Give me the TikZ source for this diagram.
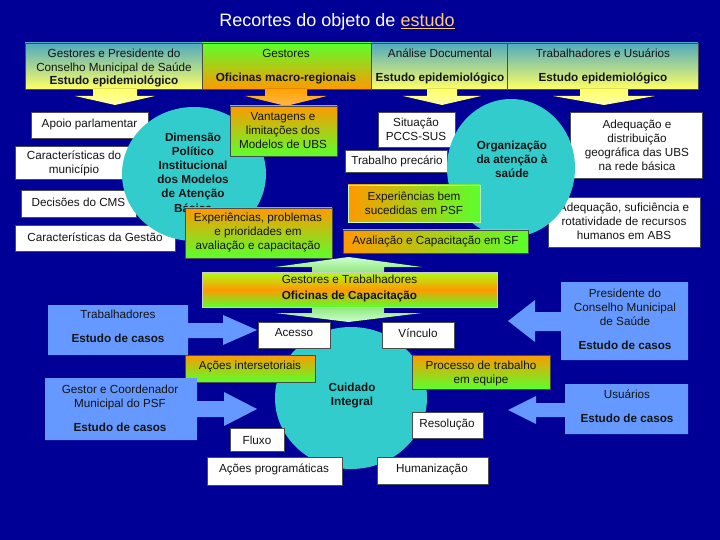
\documentclass[tikz,border=0pt]{standalone}
\usepackage{fontspec}
\setmainfont{Liberation Sans}
\usetikzlibrary{shapes.geometric}
\definecolor{bgblue}{RGB}{0,0,150}
\definecolor{circ}{RGB}{51,204,204}
\definecolor{orng}{RGB}{255,153,0}
\definecolor{grn}{RGB}{90,255,45}
\definecolor{tealtop}{RGB}{80,170,192}
\definecolor{yel}{RGB}{255,255,102}
\definecolor{cblue}{RGB}{102,153,255}
\definecolor{gold}{RGB}{255,204,102}
\definecolor{ink}{RGB}{20,20,20}
\tikzset{
  base/.style={inner sep=0pt, outer sep=0pt},
  txt/.style={base, align=center, text=ink, font=\fontsize{11.7}{14}\selectfont},
  btxt/.style={base, align=center, text=ink, font=\fontsize{11.7}{14.2}\selectfont\bfseries},
  wbox/.style={base, draw=black!70, line width=0.4pt, fill=white},
  tybox/.style={base, draw=black!70, line width=0.4pt, top color=tealtop, bottom color=yel},
  gobox/.style={base, draw=black!70, line width=0.4pt, top color=grn, bottom color=orng},
  ogbox/.style={base, draw=black!70, line width=0.4pt, top color=orng, bottom color=grn},
  hogbox/.style={base, draw=black!70, line width=0.4pt, left color=orng, right color=grn},
  ocbox/.style={base, draw=white!80!black, line width=0.5pt, top color=grn!50!yellow, bottom color=grn, middle color=orng},
  disc/.style={base, ellipse, fill=circ},
  arrY/.style={top color=yel, bottom color=yel!55!white},
  arrO/.style={top color=orng!90!yellow, bottom color=orng!70!white},
  callarr/.style={fill=cblue},
}
\newcommand\bx[6]{\node[#1, minimum width={#5-#3}, minimum height={#6-#4}] (#2) at ({(#3+#5)/2},{(#4+#6)/2}) {};}
\newcommand\dnarr[7]{\fill[#7] ({#1-#2},#4) -- ({#1+#2},#4) -- ({#1+#2},#5) -- ({#1+#3},#5) -- (#1,#6) -- ({#1-#3},#5) -- ({#1-#2},#5) -- cycle;}
\begin{document}
\begin{tikzpicture}[x=1pt,y=-1pt]
\fill[bgblue] (0,0) rectangle (720,540);
\useasboundingbox (0,0) rectangle (720,540);
% title
\node[base, font=\fontsize{18}{22}\selectfont, text=white] (title) at (337,22) {Recortes do objeto de \textcolor{gold}{\underline{estudo}}};
% top boxes
\bx{tybox}{b1}{25}{43}{202}{89}
\bx{gobox}{b2}{202}{43}{371}{89}
\bx{tybox}{b3}{371}{43}{507}{89}
\bx{tybox}{b4}{507}{43}{698}{89}
\node[txt, font=\fontsize{11.7}{13.5}\selectfont] (t1) at (114,68.5) {Gestores e Presidente do\\Conselho Municipal de Saúde\\\textbf{Estudo epidemiológico}};
\node[txt] (t2) at (286,67) {Gestores\\[10pt]\textbf{Oficinas macro-regionais}};
\node[txt] (t3) at (440,66.5) {Análise Documental\\[10pt]\textbf{Estudo epidemiológico}};
\node[txt] (t4) at (603,66.5) {Trabalhadores e Usuários\\[10pt]\textbf{Estudo epidemiológico}};
% down arrows
\dnarr{115}{22}{40}{89}{96}{105}{arrY}
\dnarr{286}{21}{41}{89}{96}{106}{arrO}
\dnarr{442}{15}{39}{89}{96}{105}{arrY}
\dnarr{604}{24}{51}{89}{96}{105}{arrY}
% white boxes, upper part
\bx{wbox}{apoio}{31}{112}{148}{138}
\node[txt] (apoiot) at (89.5,124) {Apoio parlamentar};
\bx{wbox}{carmun}{15}{146}{133}{179}
\node[txt] (carmunt) at (74,163.5) {Características do\\município};
\bx{wbox}{cms}{21}{190}{136}{217}
\node[txt] (cmst) at (78.5,202) {Decisões do CMS};
\bx{wbox}{gestao}{15}{225}{175}{251}
\node[txt] (gestaot) at (95,237) {Características da Gestão};
\bx{wbox}{pccs}{378}{112}{455}{147}
\node[txt] (pccst) at (416,129.5) {Situação\\PCCS-SUS};
\bx{wbox}{prec}{345}{150}{447}{172}
\node[txt] (prect) at (397,161) {Trabalho precário};
\bx{wbox}{adeq}{570}{112}{702}{178}
\node[txt] (adeqt) at (637,145) {Adequação e\\distribuição\\geográfica das UBS\\na rede básica};
\bx{wbox}{rh}{548}{197}{700}{247}
\node[txt] (rht) at (624,221.5) {Adequação, suficiência e\\rotatividade de recursos\\humanos em ABS};
% circles
\node[disc, minimum width=144, minimum height=134] (c1) at (194,174) {};
\node[btxt] (c1t) at (193,172.5) {Dimensão\\Político\\Institucional\\dos Modelos\\de Atenção\\Básica};
\node[disc, minimum width=128, minimum height=138] (c2) at (511,168) {};
\node[btxt] (c2t) at (512,159.5) {Organização\\da atenção à\\saúde};
% gradient boxes upper
\bx{ogbox}{vant}{230}{106}{337}{156}
\node[txt] (vantt) at (283,131) {Vantagens e\\limitações dos\\Modelos de UBS};
\bx{ogbox}{expp}{185}{208}{332}{258}
\node[txt] (exppt) at (258,232.5) {Experiências, problemas\\e prioridades em\\avaliação e capacitação};
\node[hogbox, draw=green!25!white, minimum width=132, minimum height=37] (expb) at (414,203.5) {};
\node[txt] (expbt) at (414,203) {Experiências bem\\sucedidas em PSF};
\bx{hogbox}{aval}{343}{230}{528}{253}
\node[txt] (avalt) at (435.5,241.5) {Avaliação e Capacitação em SF};
% double arrow and capacitation box
\fill[top color=green!20!white, bottom color=green!20!white, middle color=grn!80!black]
  (348.5,257) -- (422,267) -- (384,267) -- (384,313) -- (422,313) -- (348.5,322)
  -- (275,313) -- (312,313) -- (312,267) -- (275,267) -- cycle;
\bx{ocbox}{ofic}{202}{272}{497}{307}
\node[txt] (ofict) at (349.5,288.5) {Gestores e Trabalhadores\\[2pt]\textbf{Oficinas de Capacitação}};
% bottom circle
\node[disc, minimum width=152, minimum height=142] (c3) at (351,398) {};
\node[btxt] (c3t) at (352,395.5) {Cuidado\\Integral};
% boxes around bottom circle
\bx{wbox}{acesso}{258}{322}{330}{348}
\node[txt] (acessot) at (294,333) {Acesso};
\bx{wbox}{vinc}{382}{322}{454}{348}
\node[txt] (vinct) at (418,333) {Vínculo};
\bx{ogbox}{inter}{185}{355}{315}{382}
\node[txt] (intert) at (250,366) {Ações intersetoriais};
\bx{ogbox}{proc}{412}{355}{550}{389}
\node[txt] (proct) at (481,373) {Processo de trabalho\\em equipe};
\bx{wbox}{resol}{412}{412}{483}{438}
\node[txt] (resolt) at (447,424) {Resolução};
\bx{wbox}{fluxo}{230}{428}{284}{451}
\node[txt] (fluxot) at (257,440) {Fluxo};
\bx{wbox}{acprog}{207}{457}{342}{485}
\node[txt] (acprogt) at (274,469) {Ações programáticas};
\bx{wbox}{human}{377}{457}{488}{484}
\node[txt] (humant) at (432,469) {Humanização};
% callout arrows
\fill[callarr] (48,305) -- (188,305) -- (188,323) -- (223,323) -- (223,315) -- (257,330)
  -- (223,345) -- (223,338) -- (188,338) -- (188,355) -- (48,355) -- cycle;
\node[txt] (trabt) at (118,326) {Trabalhadores\\[10pt]\textbf{Estudo de casos}};
\fill[callarr] (45,378) -- (197,378) -- (197,401) -- (224,401) -- (224,392) -- (257,409)
  -- (224,426) -- (224,417) -- (197,417) -- (197,440) -- (45,440) -- cycle;
\node[txt] (gestort) at (120,408) {Gestor e Coordenador\\Municipal do PSF\\[10pt]\textbf{Estudo de casos}};
\fill[callarr] (688,282) -- (561,282) -- (561,312) -- (535,312) -- (535,300) -- (508,321)
  -- (535,342) -- (535,331) -- (561,331) -- (561,360) -- (688,360) -- cycle;
\node[txt] (prest) at (625,319) {Presidente do\\Conselho Municipal\\de Saúde\\[10pt]\textbf{Estudo de casos}};
\fill[callarr] (688,384) -- (565,384) -- (565,403) -- (536,403) -- (536,396) -- (508,410)
  -- (536,424) -- (536,417) -- (565,417) -- (565,434) -- (688,434) -- cycle;
\node[txt] (usut) at (627,406) {Usuários\\[10pt]\textbf{Estudo de casos}};
\end{tikzpicture}
\end{document}
